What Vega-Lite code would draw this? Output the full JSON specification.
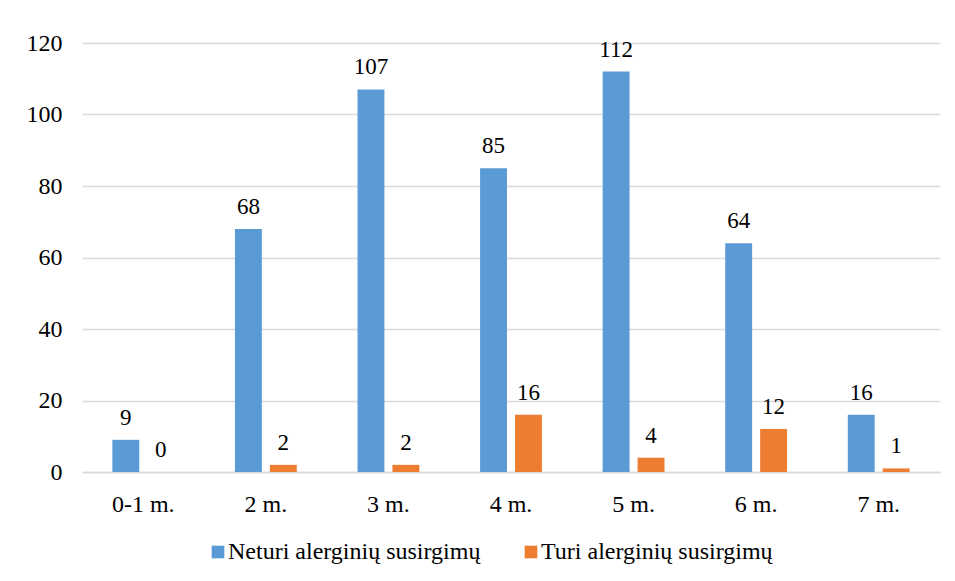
{
  "$schema": "https://vega.github.io/schema/vega-lite/v6.json",
  "autosize": "none",
  "width": 858,
  "height": 429,
  "padding": {"left": 82, "top": 43, "right": 15, "bottom": 109},
  "background": "white",
  "config": {
    "view": {"stroke": null},
    "font": "Liberation Serif",
    "axis": {"labelFont": "Liberation Serif", "labelFontSize": 24, "labelColor": "#000000"},
    "legend": {"labelFont": "Liberation Serif", "labelFontSize": 24, "labelColor": "#000000", "labelLimit": 500}
  },
  "data": {
    "values": [
      {"age": "0-1 m.", "series": "Neturi alerginių susirgimų", "value": 9},
      {"age": "0-1 m.", "series": "Turi alerginių susirgimų", "value": 0},
      {"age": "2 m.", "series": "Neturi alerginių susirgimų", "value": 68},
      {"age": "2 m.", "series": "Turi alerginių susirgimų", "value": 2},
      {"age": "3 m.", "series": "Neturi alerginių susirgimų", "value": 107},
      {"age": "3 m.", "series": "Turi alerginių susirgimų", "value": 2},
      {"age": "4 m.", "series": "Neturi alerginių susirgimų", "value": 85},
      {"age": "4 m.", "series": "Turi alerginių susirgimų", "value": 16},
      {"age": "5 m.", "series": "Neturi alerginių susirgimų", "value": 112},
      {"age": "5 m.", "series": "Turi alerginių susirgimų", "value": 4},
      {"age": "6 m.", "series": "Neturi alerginių susirgimų", "value": 64},
      {"age": "6 m.", "series": "Turi alerginių susirgimų", "value": 12},
      {"age": "7 m.", "series": "Neturi alerginių susirgimų", "value": 16},
      {"age": "7 m.", "series": "Turi alerginių susirgimų", "value": 1}
    ]
  },
  "encoding": {
    "x": {
      "field": "age", "type": "nominal", "sort": null, "title": null,
      "scale": {"paddingInner": 0.43, "paddingOuter": 0.215},
      "axis": {"labelAngle": 0, "domain": true, "domainColor": "#d9d9d9", "domainWidth": 1.5, "ticks": false, "labelPadding": 20}
    },
    "xOffset": {
      "field": "series", "type": "nominal", "sort": null,
      "scale": {"paddingInner": 0.23, "paddingOuter": 0.115}
    },
    "y": {
      "field": "value", "type": "quantitative", "title": null,
      "scale": {"domain": [0, 120], "nice": false},
      "axis": {"values": [0, 20, 40, 60, 80, 100, 120], "domain": false, "ticks": false, "gridColor": "#d9d9d9", "gridWidth": 1.5, "labelPadding": 20}
    }
  },
  "layer": [
    {
      "mark": {"type": "bar"},
      "encoding": {
        "color": {
          "field": "series", "type": "nominal", "sort": null,
          "scale": {"range": ["#5B9BD5", "#ED7D31"]},
          "legend": {
            "title": null, "orient": "none", "direction": "horizontal",
            "legendX": 124, "legendY": 497,
            "symbolType": "square", "symbolSize": 160, "symbolStrokeWidth": 0,
            "labelOffset": -2, "columnPadding": 38
          }
        }
      }
    },
    {
      "mark": {"type": "text", "font": "Liberation Serif", "fontSize": 23, "baseline": "alphabetic", "dy": -15, "color": "#000000"},
      "encoding": {"text": {"field": "value", "type": "quantitative"}}
    }
  ]
}
